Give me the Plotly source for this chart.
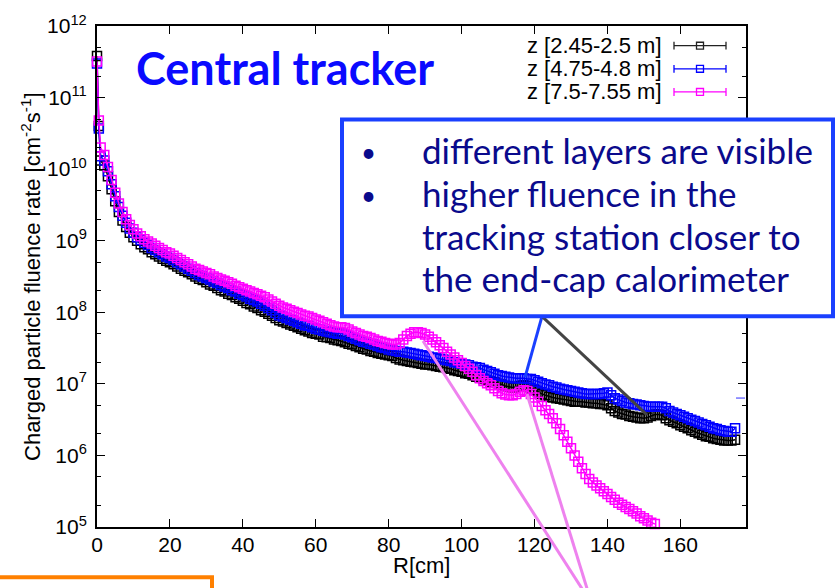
import plotly.graph_objects as go

# ---------------- data ----------------
R_long = [0, 0.5] + list(range(1, 176))     # R [cm] for z 2.45-2.5 m and 4.75-4.8 m
R_short = [0, 0.5] + list(range(1, 154))    # R [cm] for z 7.5-7.55 m

rate_z245 = [3.8e11, 4.0e10,
    1.32e10, 1.12e10, 7.94e9, 5.25e9, 3.55e9, 2.51e9, 1.91e9, 1.55e9, 1.29e9, 1.12e9,
    1.00e9, 8.91e8, 8.13e8, 7.59e8, 6.92e8, 6.46e8, 6.03e8, 5.62e8, 5.25e8, 5.01e8,
    4.68e8, 4.37e8, 4.07e8, 3.80e8, 3.63e8, 3.39e8, 3.16e8, 2.95e8, 2.82e8, 2.63e8,
    2.45e8, 2.34e8, 2.19e8, 2.04e8, 1.95e8, 1.82e8, 1.74e8, 1.62e8, 1.55e8, 1.45e8,
    1.35e8, 1.29e8, 1.20e8, 1.15e8, 1.07e8, 1.02e8, 9.55e7, 8.91e7, 8.32e7, 7.76e7,
    7.41e7, 7.08e7, 6.76e7, 6.46e7, 6.17e7, 5.89e7, 5.62e7, 5.37e7, 5.13e7, 5.01e7,
    4.90e7, 4.57e7, 4.47e7, 4.37e7, 4.17e7, 4.07e7, 3.98e7, 3.80e7, 3.63e7, 3.55e7,
    3.39e7, 3.24e7, 3.09e7, 3.02e7, 2.88e7, 2.82e7, 2.69e7, 2.63e7, 2.57e7, 2.51e7,
    2.45e7, 2.29e7, 2.19e7, 2.14e7, 2.09e7, 2.04e7, 2.00e7, 1.95e7, 1.91e7, 1.86e7,
    1.86e7, 1.82e7, 1.78e7, 1.74e7, 1.70e7, 1.66e7, 1.62e7, 1.55e7, 1.51e7, 1.48e7,
    1.41e7, 1.38e7, 1.32e7, 1.26e7, 1.23e7, 1.17e7, 1.12e7, 1.07e7, 1.05e7, 1.00e7,
    9.77e6, 9.33e6, 9.12e6, 8.91e6, 9.12e6, 9.33e6, 9.55e6, 9.33e6, 8.71e6, 8.13e6,
    7.59e6, 7.24e6, 6.92e6, 6.61e6, 6.46e6, 6.31e6, 6.17e6, 6.03e6, 5.89e6, 5.75e6,
    5.62e6, 5.62e6, 5.62e6, 5.50e6, 5.50e6, 5.37e6, 5.37e6, 5.25e6, 5.25e6, 5.01e6,
    4.57e6, 4.17e6, 3.98e6, 3.80e6, 3.72e6, 3.55e6, 3.47e6, 3.39e6, 3.31e6, 3.31e6,
    3.39e6, 3.55e6, 3.72e6, 3.72e6, 3.63e6, 3.31e6, 3.09e6, 2.95e6, 2.82e6, 2.63e6,
    2.51e6, 2.40e6, 2.24e6, 2.14e6, 2.04e6, 1.95e6, 1.86e6, 1.82e6, 1.74e6, 1.70e6,
    1.66e6, 1.62e6, 1.62e6, 1.62e6, 1.66e6]

rate_z475 = [3.0e11, 3.7e10,
    1.51e10, 1.32e10, 9.33e9, 6.17e9, 4.17e9, 2.95e9, 2.24e9, 1.78e9, 1.48e9, 1.29e9,
    1.12e9, 1.02e9, 9.33e8, 8.71e8, 7.94e8, 7.41e8, 6.92e8, 6.46e8, 6.03e8, 5.75e8,
    5.37e8, 5.01e8, 4.68e8, 4.37e8, 4.07e8, 3.80e8, 3.55e8, 3.31e8, 3.16e8, 3.02e8,
    2.88e8, 2.69e8, 2.57e8, 2.40e8, 2.29e8, 2.19e8, 2.04e8, 1.95e8, 1.82e8, 1.74e8,
    1.66e8, 1.55e8, 1.48e8, 1.41e8, 1.32e8, 1.23e8, 1.15e8, 1.07e8, 9.77e7, 9.12e7,
    8.71e7, 8.32e7, 7.94e7, 7.59e7, 7.24e7, 6.92e7, 6.61e7, 6.46e7, 6.17e7, 5.89e7,
    5.75e7, 5.50e7, 5.37e7, 5.25e7, 5.13e7, 5.01e7, 5.13e7, 4.90e7, 4.68e7, 4.47e7,
    4.27e7, 4.07e7, 3.89e7, 3.80e7, 3.63e7, 3.55e7, 3.39e7, 3.24e7, 3.16e7, 3.02e7,
    2.95e7, 2.88e7, 2.82e7, 2.82e7, 2.75e7, 2.69e7, 2.63e7, 2.57e7, 2.51e7, 2.45e7,
    2.40e7, 2.34e7, 2.29e7, 2.24e7, 2.19e7, 2.14e7, 2.09e7, 2.00e7, 1.95e7, 1.91e7,
    1.86e7, 1.82e7, 1.74e7, 1.70e7, 1.66e7, 1.58e7, 1.51e7, 1.45e7, 1.38e7, 1.32e7,
    1.29e7, 1.26e7, 1.23e7, 1.20e7, 1.20e7, 1.20e7, 1.20e7, 1.17e7, 1.17e7, 1.12e7,
    1.07e7, 1.02e7, 9.77e6, 9.55e6, 9.12e6, 8.91e6, 8.51e6, 8.32e6, 8.13e6, 7.94e6,
    7.76e6, 7.59e6, 7.41e6, 7.24e6, 7.24e6, 7.24e6, 7.24e6, 7.24e6, 7.41e6, 7.59e6,
    6.92e6, 6.31e6, 6.03e6, 5.75e6, 5.50e6, 5.37e6, 5.25e6, 5.13e6, 5.01e6, 4.90e6,
    4.79e6, 4.79e6, 4.79e6, 4.79e6, 4.79e6, 4.57e6, 4.17e6, 3.98e6, 3.80e6, 3.63e6,
    3.47e6, 3.31e6, 3.16e6, 3.02e6, 2.88e6, 2.75e6, 2.63e6, 2.51e6, 2.40e6, 2.34e6,
    2.24e6, 2.19e6, 2.14e6, 2.14e6, 2.40e6]

rate_z750 = [3.2e11, 4.8e10,
    2.0e10, 1.58e10, 1.07e10, 7.08e9, 4.68e9, 3.31e9, 2.51e9, 2.0e9, 1.66e9, 1.45e9,
    1.26e9, 1.15e9, 1.05e9, 9.77e8, 9.12e8, 8.51e8, 7.94e8, 7.41e8, 6.92e8, 6.61e8,
    6.17e8, 5.75e8, 5.37e8, 5.01e8, 4.68e8, 4.37e8, 4.07e8, 3.89e8, 3.72e8, 3.55e8,
    3.39e8, 3.16e8, 3.02e8, 2.88e8, 2.75e8, 2.63e8, 2.51e8, 2.34e8, 2.24e8, 2.14e8,
    2.04e8, 1.95e8, 1.86e8, 1.78e8, 1.70e8, 1.62e8, 1.51e8, 1.41e8, 1.32e8, 1.23e8,
    1.17e8, 1.12e8, 1.07e8, 1.02e8, 9.77e7, 9.33e7, 8.91e7, 8.71e7, 8.32e7, 7.94e7,
    7.59e7, 7.24e7, 6.92e7, 6.61e7, 6.31e7, 6.17e7, 6.17e7, 6.03e7, 5.75e7, 5.37e7,
    5.13e7, 4.90e7, 4.68e7, 4.57e7, 4.37e7, 4.17e7, 3.98e7, 3.89e7, 3.72e7, 3.63e7,
    3.55e7, 3.55e7, 3.72e7, 4.17e7, 4.68e7, 5.01e7, 5.25e7, 5.25e7, 5.13e7, 4.90e7,
    4.57e7, 4.17e7, 3.80e7, 3.47e7, 3.16e7, 2.82e7, 2.57e7, 2.34e7, 2.14e7, 1.95e7,
    1.78e7, 1.62e7, 1.48e7, 1.32e7, 1.20e7, 1.10e7, 1.02e7, 9.55e6, 8.71e6, 7.94e6,
    7.41e6, 7.08e6, 6.92e6, 6.92e6, 7.24e6, 7.76e6, 8.13e6, 7.94e6, 7.24e6, 6.46e6,
    5.62e6, 4.90e6, 4.27e6, 3.80e6, 3.31e6, 2.82e6, 2.34e6, 1.91e6, 1.55e6, 1.26e6,
    1.00e6, 8.13e5, 6.61e5, 5.50e5, 4.68e5, 4.17e5, 3.80e5, 3.47e5, 3.16e5, 2.88e5,
    2.63e5, 2.40e5, 2.19e5, 2.04e5, 1.91e5, 1.78e5, 1.66e5, 1.55e5, 1.41e5, 1.32e5,
    1.23e5, 1.15e5, 1.10e5]

series_names = ["z [2.45-2.5 m]", "z [4.75-4.8 m]", "z [7.5-7.55 m]"]
series_colors = ["#000000", "#0000ff", "#ff00ff"]

x_ticks = [0, 20, 40, 60, 80, 100, 120, 140, 160]
y_ticks = [1e5, 1e6, 1e7, 1e8, 1e9, 1e10, 1e11, 1e12]
y_ticktext = ["10<sup>%d</sup>" % e for e in range(5, 13)]
y_minor = [2e5, 5e5, 2e6, 5e6, 2e7, 5e7, 2e8, 5e8, 2e9, 5e9, 2e10, 5e10, 2e11, 5e11]

# ---------------- layout geometry (pixels) ----------------
W, H = 837, 588
L, R, T, B = 97, 746, 18, 527
PW, PH = R - L, B - T


def px(x):
    return (x - L) / PW


def py(y):
    return (B - y) / PH


fig = go.Figure()
for xs, ys, name, col in [(R_long, rate_z245, series_names[0], series_colors[0]),
                          (R_long, rate_z475, series_names[1], series_colors[1]),
                          (R_short, rate_z750, series_names[2], series_colors[2])]:
    fig.add_trace(go.Scatter(
        x=xs, y=ys, name=name, mode="lines+markers",
        line=dict(color=col, width=1.5),
        marker=dict(symbol="square-open", size=9, color=col, line=dict(width=1.5, color=col)),
        cliponaxis=False, showlegend=False))

tick_font = dict(family="Liberation Sans, Arial, sans-serif", size=21, color="black")
title_font = dict(family="Liberation Sans, Arial, sans-serif", size=22, color="black")

fig.update_layout(
    width=W, height=H,
    margin=dict(l=L, r=W - R, t=T, b=H - B),
    paper_bgcolor="white", plot_bgcolor="white",
    showlegend=False,
    font=tick_font,
)
fig.update_xaxes(
    range=[0, 178], tickmode="array", tickvals=x_ticks,
    ticks="inside", ticklen=8, tickwidth=1.3, tickcolor="black",
    showline=True, linecolor="black", linewidth=2, mirror="ticks",
    showgrid=False, zeroline=False, tickfont=tick_font, ticklabelstandoff=-2,
)
fig.update_yaxes(
    type="log", range=[5, 12], tickmode="array", tickvals=y_ticks, ticktext=y_ticktext,
    ticks="inside", ticklen=8, tickwidth=1.3, tickcolor="black",
    minor=dict(tickmode="array", tickvals=y_minor, ticks="inside", ticklen=4,
               tickwidth=1.2, tickcolor="black", showgrid=False),
    showline=True, linecolor="black", linewidth=2, mirror="ticks",
    showgrid=False, zeroline=False, tickfont=tick_font, ticklabelstandoff=4,
)

shapes = []
annotations = []

# axis titles
annotations.append(dict(
    x=px(31), y=py(273), xref="paper", yref="paper", textangle=-90,
    text="Charged particle fluence rate [cm<sup>-2</sup>s<sup>-1</sup>]",
    showarrow=False, xanchor="center", yanchor="middle", font=title_font))
annotations.append(dict(
    x=px(421), y=py(566), xref="paper", yref="paper", text="R[cm]",
    showarrow=False, xanchor="center", yanchor="middle", font=title_font))

# legend (key drawn manually, gnuplot style)
leg_font = dict(family="Liberation Sans, Arial, sans-serif", size=22, color="black")
for i, (name, col) in enumerate(zip(series_names, series_colors)):
    yc = 38 + 23.5 * i
    annotations.append(dict(x=px(664), y=py(yc), xref="paper", yref="paper", text=name,
                            showarrow=False, xanchor="right", yanchor="middle", font=leg_font))
    lc = "#222222" if col == "#000000" else col
    shapes.append(dict(type="line", xref="paper", yref="paper", x0=px(674), x1=px(726),
                       y0=py(yc), y1=py(yc), line=dict(color=lc, width=1.3)))
    for xe in (674, 726):
        shapes.append(dict(type="line", xref="paper", yref="paper", x0=px(xe), x1=px(xe),
                           y0=py(yc - 4), y1=py(yc + 4), line=dict(color=lc, width=1.3)))
    shapes.append(dict(type="rect", xref="paper", yref="paper", x0=px(696.5), x1=px(703.5),
                       y0=py(yc - 3.5), y1=py(yc + 3.5), line=dict(color=lc, width=1.3)))

# small blue mark on right border
shapes.append(dict(type="line", xref="paper", yref="paper", x0=px(736), x1=px(745),
                   y0=py(396), y1=py(396), line=dict(color="#3030ff", width=1)))

# slide overlays
annotations.append(dict(x=px(285), y=py(61), xref="paper", yref="paper",
                        text="<b>Central tracker</b>", showarrow=False,
                        xanchor="center", yanchor="middle",
                        font=dict(family="Lato, sans-serif", size=45, color="#0a0aff")))

# callout lines
shapes.append(dict(type="line", xref="paper", yref="paper", x0=px(542), y0=py(313),
                   x1=px(525), y1=py(375), line=dict(color="#1a40ff", width=3)))
shapes.append(dict(type="line", xref="paper", yref="paper", x0=px(542), y0=py(313),
                   x1=px(647), y1=py(413), line=dict(color="#444444", width=3)))
shapes.append(dict(type="line", xref="paper", yref="paper", x0=px(423), y0=py(338),
                   x1=px(586), y1=py(596), line=dict(color="#ee82ee", width=3)))
shapes.append(dict(type="line", xref="paper", yref="paper", x0=px(527), y0=py(392),
                   x1=px(589), y1=py(596), line=dict(color="#ee82ee", width=3)))

# text box
shapes.append(dict(type="rect", xref="paper", yref="paper", x0=px(342), y0=py(313),
                   x1=px(833), y1=py(113), fillcolor="white",
                   line=dict(color="#1a40ff", width=4)))
box_font = dict(family="Lato, sans-serif", size=35, color="#0a0a8c")
bullet_font = dict(family="Lato, sans-serif", size=26, color="#0a0a8c")
box_lines = ["different layers are visible", "higher fluence in the",
             "tracking station closer to", "the end-cap calorimeter"]
for i, t in enumerate(box_lines):
    yc = 144 + 43.5 * i
    annotations.append(dict(x=px(420), y=py(yc), xref="paper", yref="paper", text=t,
                            showarrow=False, xanchor="left", yanchor="middle", font=box_font))
    if i < 2:
        annotations.append(dict(x=px(368), y=py(yc + 2), xref="paper", yref="paper", text="•",
                                showarrow=False, xanchor="center", yanchor="middle",
                                font=bullet_font))

# orange box at bottom-left
shapes.append(dict(type="rect", xref="paper", yref="paper", x0=px(-10), y0=py(605),
                   x1=px(212), y1=py(578), line=dict(color="#ff8000", width=4)))

fig.update_layout(shapes=shapes, annotations=annotations)
fig.write_html("out.html")
